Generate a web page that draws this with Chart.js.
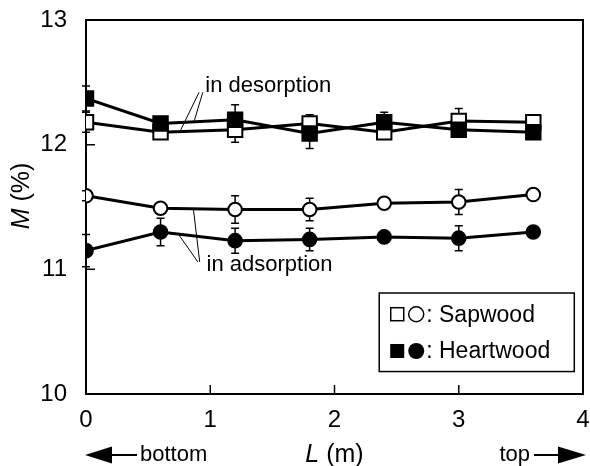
<!DOCTYPE html>
<html><head><meta charset="utf-8">
<script src="https://cdn.jsdelivr.net/npm/chart.js@4"></script>
<style>html,body{margin:0;padding:0;background:#fff}#wrap{width:590px;height:466px;position:relative}</style>
</head><body><div id="wrap"><canvas id="c"></canvas></div>
<script>
// ---- data ----
const L = [0, 0.6, 1.2, 1.8, 2.4, 3.0, 3.6];
const sapDes = [12.18, 12.10, 12.12, 12.17, 12.10, 12.19, 12.18];
const sapDesErr = [0.08, 0.03, 0.10, 0.07, 0.04, 0.10, 0.03];
const heartDes = [12.37, 12.17, 12.20, 12.09, 12.18, 12.12, 12.10];
const heartDesErr = [0.10, 0.04, 0.12, 0.12, 0.08, 0.04, 0.03];
const sapAds = [11.59, 11.49, 11.48, 11.48, 11.53, 11.54, 11.60];
const sapAdsErr = [0.04, 0.04, 0.11, 0.09, 0.04, 0.10, 0.04];
const heartAds = [11.15, 11.30, 11.23, 11.24, 11.26, 11.25, 11.30];
const heartAdsErr = [0.13, 0.11, 0.10, 0.09, 0.04, 0.10, 0.04];
const xTicks = [0, 1, 2, 3, 4];
const yTicks = [10, 11, 12, 13];
const legendItems = [': Sapwood', ': Heartwood'];

const FONT = '"Liberation Sans", Arial, Helvetica, sans-serif';
const pts = arr => arr.map((v, i) => ({x: L[i], y: v}));

function ds(label, values, errs, style, filled) {
  return {
    label, data: pts(values), errors: errs,
    borderColor: '#000', borderWidth: 3,
    pointStyle: style,
    pointRadius: style === 'rect' ? 10.2 : 6.8,
    pointBorderWidth: 2,
    pointBackgroundColor: filled ? '#000' : '#fff',
    pointBorderColor: '#000',
    pointHoverRadius: style === 'rect' ? 10.2 : 6.8,
    fill: false, tension: 0
  };
}

const framePlugin = {
  id: 'frame',
  beforeDatasetsDraw(chart) {
    const {ctx, chartArea: a, scales: {x, y}} = chart;
    ctx.save();
    ctx.strokeStyle = '#000';
    ctx.lineWidth = 2;
    ctx.strokeRect(a.left, a.top, a.right - a.left, a.bottom - a.top);
    ctx.lineWidth = 1.5;
    ctx.beginPath();
    xTicks.slice(1, -1).forEach(v => {
      const p = x.getPixelForValue(v);
      ctx.moveTo(p, a.bottom); ctx.lineTo(p, a.bottom - 9);
    });
    yTicks.slice(1, -1).forEach(v => {
      const p = y.getPixelForValue(v);
      ctx.moveTo(a.left, p); ctx.lineTo(a.left + 9, p);
    });
    ctx.stroke();
    // error bars
    ctx.lineWidth = 1.5;
    chart.data.datasets.forEach(d => {
      d.data.forEach((pt, i) => {
        const e = d.errors[i];
        const px = x.getPixelForValue(pt.x);
        const yt = y.getPixelForValue(pt.y + e);
        const yb = y.getPixelForValue(pt.y - e);
        ctx.beginPath();
        ctx.moveTo(px, yt); ctx.lineTo(px, yb);
        ctx.moveTo(px - 4, yt); ctx.lineTo(px + 4, yt);
        ctx.moveTo(px - 4, yb); ctx.lineTo(px + 4, yb);
        ctx.stroke();
      });
    });
    ctx.restore();
  },
  afterDraw(chart) {
    const {ctx, chartArea: a, scales: {x, y}} = chart;
    const X = v => x.getPixelForValue(v), Y = v => y.getPixelForValue(v);
    ctx.save();
    ctx.fillStyle = '#000';
    ctx.strokeStyle = '#000';
    // annotations
    ctx.font = '22px ' + FONT;
    ctx.textBaseline = 'alphabetic';
    ctx.textAlign = 'left';
    ctx.fillText('in desorption', X(0.96), Y(12.42));
    ctx.fillText('in adsorption', X(0.97), Y(10.99));
    ctx.lineWidth = 1;
    ctx.beginPath();
    ctx.moveTo(X(0.91), Y(12.42)); ctx.lineTo(X(0.757), Y(12.107));
    ctx.moveTo(X(0.94), Y(12.42)); ctx.lineTo(X(0.869), Y(12.183));
    ctx.moveTo(X(0.915), Y(11.06)); ctx.lineTo(X(0.864), Y(11.486));
    ctx.moveTo(X(0.9), Y(11.06)); ctx.lineTo(X(0.743), Y(11.283));
    ctx.stroke();

    // legend box
    const lb = {l: X(2.36), r: X(3.93), t: Y(10.81), b: Y(10.18)};
    ctx.lineWidth = 1.5;
    ctx.strokeRect(lb.l, lb.t, lb.r - lb.l, lb.b - lb.t);
    const rows = [Y(10.64), Y(10.345)];
    rows.forEach((ry, k) => {
      const filled = k === 1;
      const sx = lb.l + 18, cx = lb.l + 37;
      ctx.lineWidth = 1.5;
      if (filled) { ctx.fillRect(sx - 7, ry - 7, 14, 14); }
      else { ctx.strokeRect(sx - 6.5, ry - 6.5, 13, 13); }
      ctx.beginPath(); ctx.arc(cx, ry, filled ? 8 : 7.5, 0, Math.PI * 2);
      if (filled) ctx.fill(); else ctx.stroke();
      ctx.font = '23px ' + FONT;
      ctx.textBaseline = 'middle';
      ctx.fillText(legendItems[k], lb.l + 47, ry + 1);
    });

    // axis titles
    const rowY = 455;
    ctx.textBaseline = 'middle';
    // y title  M (%)
    ctx.save();
    ctx.translate(22, 196);
    ctx.rotate(-Math.PI / 2);
    ctx.font = 'italic 25px ' + FONT;
    const mW = ctx.measureText('M').width;
    ctx.font = '25px ' + FONT;
    const rW = ctx.measureText(' (%)').width;
    let sx = -(mW + rW) / 2;
    ctx.font = 'italic 25px ' + FONT; ctx.fillText('M', sx, 0);
    ctx.font = '25px ' + FONT; ctx.fillText(' (%)', sx + mW, 0);
    ctx.restore();
    // x title L (m)
    ctx.font = 'italic 25px ' + FONT;
    const lW = ctx.measureText('L').width;
    ctx.font = '25px ' + FONT;
    const r2 = ctx.measureText(' (m)').width;
    let tx = X(2) - (lW + r2) / 2;
    ctx.font = 'italic 25px ' + FONT; ctx.fillText('L', tx, rowY);
    ctx.font = '25px ' + FONT; ctx.fillText(' (m)', tx + lW, rowY);
    // bottom / top arrows
    ctx.font = '22px ' + FONT;
    ctx.textAlign = 'left';
    ctx.fillText('bottom', 140, rowY);
    ctx.textAlign = 'right';
    ctx.fillText('top', 530, rowY);
    ctx.lineWidth = 2;
    ctx.beginPath();
    ctx.moveTo(110, rowY); ctx.lineTo(137, rowY);
    ctx.moveTo(534, rowY); ctx.lineTo(560, rowY);
    ctx.stroke();
    ctx.beginPath();
    ctx.moveTo(85, rowY); ctx.lineTo(112, rowY - 8.5); ctx.lineTo(112, rowY + 8.5); ctx.closePath();
    ctx.moveTo(586, rowY); ctx.lineTo(558, rowY - 8.5); ctx.lineTo(558, rowY + 8.5); ctx.closePath();
    ctx.fill();
    ctx.restore();
  }
};

function noOverflow(s) {
  s.paddingTop = 0; s.paddingBottom = 0; s.paddingLeft = 0; s.paddingRight = 0;
}

new Chart(document.getElementById('c'), {
  type: 'line',
  data: {
    datasets: [
      ds('Heartwood desorption', heartDes, heartDesErr, 'rect', true),
      ds('Heartwood adsorption', heartAds, heartAdsErr, 'circle', true),
      ds('Sapwood desorption', sapDes, sapDesErr, 'rect', false),
      ds('Sapwood adsorption', sapAds, sapAdsErr, 'circle', false)
    ]
  },
  options: {
    responsive: true, maintainAspectRatio: false, animation: false,
    layout: {autoPadding: false, padding: {top: 20, right: 7, bottom: 0, left: 0}},
    plugins: {legend: {display: false}, tooltip: {enabled: false}},
    events: [],
    scales: {
      x: {
        type: 'linear', min: 0, max: 4,
        afterBuildTicks: s => { s.ticks = xTicks.map(v => ({value: v})); },
        afterFit: s => { s.height = 72; noOverflow(s); },
        grid: {display: false, drawTicks: false},
        border: {display: false},
        ticks: {color: '#000', font: {family: FONT, size: 24}, padding: 12, maxRotation: 0}
      },
      y: {
        type: 'linear', min: 10, max: 13,
        afterBuildTicks: s => { s.ticks = yTicks.map(v => ({value: v})); },
        afterFit: s => { s.width = 86; noOverflow(s); },
        grid: {display: false, drawTicks: false},
        border: {display: false},
        ticks: {color: '#000', font: {family: FONT, size: 24}, padding: 19}
      }
    }
  },
  plugins: [framePlugin]
});
</script></body></html>
